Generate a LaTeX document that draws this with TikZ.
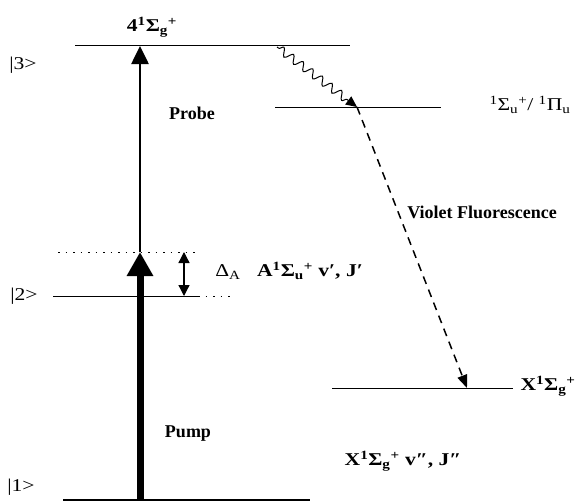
\documentclass[tikz,border=0pt]{standalone}
\usepackage{amsmath}
\usepackage{fontspec}
\setmainfont{Liberation Serif}
\newfontfamily\widefont[FakeStretch=1.2]{Liberation Serif}
\usetikzlibrary{arrows.meta,decorations.pathmorphing}
\newcommand{\subsup}[2]{\textsubscript{#1}\textsuperscript{#2}}

\begin{document}
\begin{tikzpicture}[x=1pt,y=-1pt,
  levelline/.style={line width=1pt},
  virtline/.style={line width=0.8pt,dash pattern=on 1.5pt off 6pt},
  statelbl/.style={font=\widefont\fontsize{18}{20}\selectfont,inner sep=0pt},
  termlbl/.style={font=\widefont\fontsize{18}{20}\selectfont\bfseries,inner sep=0pt},
  beamlbl/.style={font=\fontsize{18}{20}\selectfont\bfseries,inner sep=0pt}]
\useasboundingbox (0,0) rectangle (585,503);
% energy levels
\coordinate (l3a) at (75,46);   \coordinate (l3b) at (350,46);
\coordinate (lua) at (275,107); \coordinate (lub) at (441,107);
\coordinate (lva) at (58,252);  \coordinate (lvb) at (200,252);
\coordinate (l2a) at (53,296);  \coordinate (l2m) at (198,296); \coordinate (l2b) at (230,296);
\coordinate (lxa) at (332,388); \coordinate (lxb) at (513,388);
\coordinate (l1a) at (63,500);  \coordinate (l1b) at (310,500);
\draw[levelline] (l3a)--(l3b);
\draw[levelline] (lua)--(lub);
\draw[virtline] (lva)--(lvb);
\draw[levelline] (l2a)--(l2m);
\draw[virtline] (l2m)--(l2b);
\draw[levelline] (lxa)--(lxb);
\draw[levelline,line width=1.6pt] (l1a)--(l1b);
% transitions
\coordinate (pumpfrom) at (140,500);
\coordinate (pumpto) at (140,252);
\coordinate (probeto) at (140,46);
\coordinate (detA) at (184,252);
\coordinate (detB) at (184,296);
\coordinate (relaxfrom) at (277,47);
\coordinate (relaxto) at (357,107);
\coordinate (fluorto) at (467,388);
\draw[line width=7pt,-{Triangle[length=24pt,width=25pt]}] (pumpfrom)--(pumpto);
\draw[line width=2.6pt,-{Triangle[length=18pt,width=17pt]}] (pumpto)--(probeto);
\draw[line width=1.3pt,{Triangle[length=11pt,width=11pt]}-{Triangle[length=11pt,width=11pt]}] (detA)--(detB);
\draw[line width=1pt,-{Triangle[length=11pt,width=10pt]},decorate,
  decoration={snake,amplitude=4pt,segment length=12pt,pre length=2pt,post length=10pt}] (relaxfrom)--(relaxto);
\draw[line width=1.5pt,dash pattern=on 8pt off 6pt,-{Triangle[length=13pt,width=10pt]}] (relaxto)--(fluorto);
% labels
\node[termlbl] (t3) at (152,27) {4\textsuperscript{1}Σ\subsup{g}{+}};
\node[statelbl] (s3) at (23,65) {|3>};
\node[statelbl] (tu) at (530,105) {\textsuperscript{1}Σ\subsup{u}{+}/ \textsuperscript{1}Π\textsubscript{u}};
\node[beamlbl] (probe) at (192,113) {Probe};
\node[beamlbl] (fluor) at (482,212) {Violet Fluorescence};
\node[statelbl] (det) at (228,272) {Δ\textsubscript{A}};
\node[termlbl] (t2) at (310,271) {A\textsuperscript{1}Σ\subsup{u}{+} v′, J′};
\node[statelbl] (s2) at (24,296) {|2>};
\node[termlbl] (tx) at (548,386) {X\textsuperscript{1}Σ\subsup{g}{+}};
\node[beamlbl] (pump) at (188,434) {Pump};
\node[termlbl] (t1) at (403,461) {X\textsuperscript{1}Σ\subsup{g}{+} v″, J″};
\node[statelbl] (s1) at (21,487) {|1>};
\end{tikzpicture}
\end{document}
